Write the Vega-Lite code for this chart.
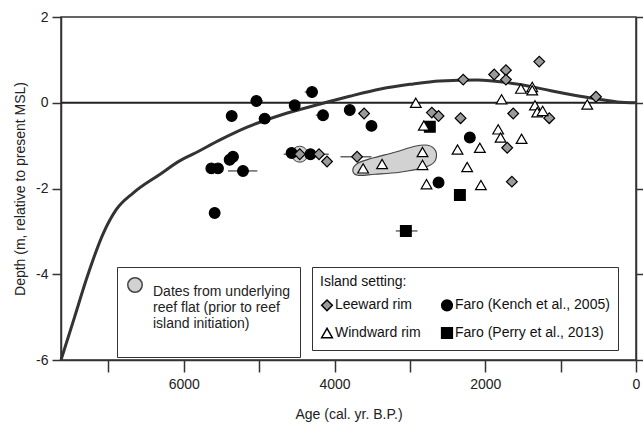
{
  "$schema": "https://vega.github.io/schema/vega-lite/v6.json",
  "autosize": {"type": "none"},
  "width": 575,
  "height": 343,
  "padding": {"left": 61, "top": 17, "right": 7, "bottom": 64},
  "config": {
    "view": {"stroke": "#333", "strokeWidth": 1.5},
    "font": "Liberation Sans",
    "axis": {"grid": false, "domainColor": "#333", "domainWidth": 1.5, "tickColor": "#333", "tickWidth": 1.5, "labelFontSize": 14, "labelColor": "#222", "titleFontSize": 14, "titleFontWeight": "normal", "titleColor": "#222", "labelFont": "Liberation Sans", "titleFont": "Liberation Sans"}
  },
  "datasets": {
    "curve": [
      {"age": 7630, "depth": -6.0}, {"age": 7450, "depth": -5.0}, {"age": 7290, "depth": -4.1},
      {"age": 7070, "depth": -3.05}, {"age": 6900, "depth": -2.5}, {"age": 6670, "depth": -2.1},
      {"age": 6310, "depth": -1.66}, {"age": 6050, "depth": -1.35}, {"age": 5880, "depth": -1.2},
      {"age": 5500, "depth": -0.85}, {"age": 5160, "depth": -0.57}, {"age": 4700, "depth": -0.28},
      {"age": 4190, "depth": -0.03}, {"age": 3800, "depth": 0.15}, {"age": 3390, "depth": 0.32},
      {"age": 3000, "depth": 0.43}, {"age": 2600, "depth": 0.51}, {"age": 2100, "depth": 0.53},
      {"age": 1710, "depth": 0.47}, {"age": 1400, "depth": 0.38}, {"age": 1130, "depth": 0.28},
      {"age": 800, "depth": 0.17}, {"age": 520, "depth": 0.09}, {"age": 250, "depth": 0.02},
      {"age": 0, "depth": 0.0}
    ],
    "zero": [{"age": 7630, "depth": 0}, {"age": 0, "depth": 0}],
    "blob": [
      {"i": 1, "age": 3758, "depth": -1.574}, {"i": 2, "age": 3692, "depth": -1.411},
      {"i": 3, "age": 3506, "depth": -1.295}, {"i": 4, "age": 3201, "depth": -1.155},
      {"i": 5, "age": 2935, "depth": -1.015}, {"i": 6, "age": 2762, "depth": -0.992},
      {"i": 7, "age": 2656, "depth": -1.132}, {"i": 8, "age": 2669, "depth": -1.365},
      {"i": 9, "age": 2802, "depth": -1.504}, {"i": 10, "age": 3134, "depth": -1.621},
      {"i": 11, "age": 3466, "depth": -1.668}, {"i": 12, "age": 3692, "depth": -1.691}
    ],
    "bars": [
      {"age": 5415, "age2": 5024, "depth": -1.59}, {"age": 4675, "age2": 4077, "depth": -1.2},
      {"age": 3922, "age2": 3510, "depth": -1.26}, {"age": 3187, "age2": 2899, "depth": -2.99},
      {"age": 5113, "age2": 4950, "depth": 0.04}, {"age": 5007, "age2": 4883, "depth": -0.37},
      {"age": 4396, "age2": 4286, "depth": 0.25}, {"age": 4250, "age2": 4086, "depth": -0.29},
      {"age": 5468, "age2": 5282, "depth": -1.3}, {"age": 2280, "age2": 2138, "depth": -0.81},
      {"age": 2696, "age2": 2563, "depth": -1.86}
    ],
    "reef": [
      {"age": 4462, "depth": -1.2, "kind": "Dates from underlying|reef flat (prior to reef|island initiation)"}
    ],
    "points": [
      {"setting": "Faro (Kench et al., 2005)", "age": 5365, "depth": -0.31},
      {"setting": "Faro (Kench et al., 2005)", "age": 5037, "depth": 0.04},
      {"setting": "Faro (Kench et al., 2005)", "age": 4927, "depth": -0.37},
      {"setting": "Faro (Kench et al., 2005)", "age": 4529, "depth": -0.06},
      {"setting": "Faro (Kench et al., 2005)", "age": 4299, "depth": 0.25},
      {"setting": "Faro (Kench et al., 2005)", "age": 4153, "depth": -0.29},
      {"setting": "Faro (Kench et al., 2005)", "age": 3798, "depth": -0.17},
      {"setting": "Faro (Kench et al., 2005)", "age": 3510, "depth": -0.54},
      {"setting": "Faro (Kench et al., 2005)", "age": 5348, "depth": -1.26},
      {"setting": "Faro (Kench et al., 2005)", "age": 5392, "depth": -1.33},
      {"setting": "Faro (Kench et al., 2005)", "age": 5635, "depth": -1.53},
      {"setting": "Faro (Kench et al., 2005)", "age": 5547, "depth": -1.53},
      {"setting": "Faro (Kench et al., 2005)", "age": 5215, "depth": -1.59},
      {"setting": "Faro (Kench et al., 2005)", "age": 5591, "depth": -2.57},
      {"setting": "Faro (Kench et al., 2005)", "age": 4570, "depth": -1.17},
      {"setting": "Faro (Kench et al., 2005)", "age": 4320, "depth": -1.2},
      {"setting": "Faro (Kench et al., 2005)", "age": 2205, "depth": -0.81},
      {"setting": "Faro (Kench et al., 2005)", "age": 2620, "depth": -1.86},
      {"setting": "Faro (Perry et al., 2013)", "age": 2736, "depth": -0.56},
      {"setting": "Faro (Perry et al., 2013)", "age": 2337, "depth": -2.15},
      {"setting": "Faro (Perry et al., 2013)", "age": 3054, "depth": -2.99},
      {"setting": "Leeward rim", "age": 3608, "depth": -0.25},
      {"setting": "Leeward rim", "age": 4206, "depth": -1.2},
      {"setting": "Leeward rim", "age": 4100, "depth": -1.37},
      {"setting": "Leeward rim", "age": 4462, "depth": -1.2},
      {"setting": "Leeward rim", "age": 3701, "depth": -1.26},
      {"setting": "Leeward rim", "age": 2293, "depth": 0.54},
      {"setting": "Leeward rim", "age": 1882, "depth": 0.66},
      {"setting": "Leeward rim", "age": 1726, "depth": 0.76},
      {"setting": "Leeward rim", "age": 1726, "depth": 0.54},
      {"setting": "Leeward rim", "age": 1284, "depth": 0.96},
      {"setting": "Leeward rim", "age": 531, "depth": 0.14},
      {"setting": "Leeward rim", "age": 2709, "depth": -0.23},
      {"setting": "Leeward rim", "age": 2620, "depth": -0.31},
      {"setting": "Leeward rim", "age": 2328, "depth": -0.36},
      {"setting": "Leeward rim", "age": 1629, "depth": -0.25},
      {"setting": "Leeward rim", "age": 1151, "depth": -0.36},
      {"setting": "Leeward rim", "age": 1709, "depth": -1.05},
      {"setting": "Leeward rim", "age": 1647, "depth": -1.84},
      {"setting": "Windward rim", "age": 2922, "depth": 0.0},
      {"setting": "Windward rim", "age": 1784, "depth": 0.08},
      {"setting": "Windward rim", "age": 1527, "depth": 0.33},
      {"setting": "Windward rim", "age": 1377, "depth": 0.37},
      {"setting": "Windward rim", "age": 1377, "depth": 0.29},
      {"setting": "Windward rim", "age": 1341, "depth": -0.06},
      {"setting": "Windward rim", "age": 1311, "depth": -0.22},
      {"setting": "Windward rim", "age": 1239, "depth": -0.19},
      {"setting": "Windward rim", "age": 647, "depth": -0.04},
      {"setting": "Windward rim", "age": 2815, "depth": -0.53},
      {"setting": "Windward rim", "age": 1829, "depth": -0.62},
      {"setting": "Windward rim", "age": 1797, "depth": -0.81},
      {"setting": "Windward rim", "age": 1518, "depth": -0.84},
      {"setting": "Windward rim", "age": 2368, "depth": -1.09},
      {"setting": "Windward rim", "age": 2072, "depth": -1.05},
      {"setting": "Windward rim", "age": 2833, "depth": -1.15},
      {"setting": "Windward rim", "age": 2833, "depth": -1.45},
      {"setting": "Windward rim", "age": 2240, "depth": -1.5},
      {"setting": "Windward rim", "age": 2780, "depth": -1.9},
      {"setting": "Windward rim", "age": 2058, "depth": -1.92},
      {"setting": "Windward rim", "age": 3621, "depth": -1.53},
      {"setting": "Windward rim", "age": 3369, "depth": -1.43}
    ]
  },
  "encoding": {
    "x": {"field": "age", "type": "quantitative", "scale": {"domain": [0, 7630], "reverse": true, "nice": false, "zero": false},
      "axis": {"orient": "bottom", "values": [7000, 6000, 5000, 4000, 3000, 2000, 1000, 0], "labelExpr": "datum.value % 2000 == 0 ? '' + datum.value : ''", "labelFlush": false, "labelOverlap": false, "tickSize": 12, "labelPadding": 5, "title": "Age (cal. yr. B.P.)", "titlePadding": 16}},
    "y": {"field": "depth", "type": "quantitative", "scale": {"domain": [-6, 2], "nice": false, "zero": false}, "axis": null}
  },
  "layer": [
    {
      "data": {"name": "blob"},
      "mark": {"type": "line", "interpolate": "cardinal-closed", "fill": "#d2d2d2", "stroke": "#444", "strokeWidth": 1.2},
      "encoding": {"order": {"field": "i"}}
    },
    {
      "data": {"name": "zero"},
      "mark": {"type": "line", "stroke": "#222", "strokeWidth": 2}
    },
    {
      "data": {"name": "curve"},
      "mark": {"type": "line", "interpolate": "monotone", "stroke": "#333", "strokeWidth": 3},
      "encoding": {
        "y": {"field": "depth", "type": "quantitative",
          "axis": {"orient": "right", "values": [-6, -4, -2, 0, 2], "labels": false, "tickSize": 7, "title": null}}
      }
    },
    {
      "data": {"name": "bars"},
      "mark": {"type": "rule", "stroke": "#666", "strokeWidth": 1.5},
      "encoding": {"x2": {"field": "age2"}}
    },
    {
      "data": {"name": "reef"},
      "mark": {"type": "point", "filled": true, "shape": "circle", "size": 256, "stroke": "#444", "strokeWidth": 1, "opacity": 1},
      "encoding": {
        "color": {"field": "kind", "type": "nominal", "scale": {"range": ["#d2d2d2"]},
          "legend": {"title": null, "orient": "none", "legendX": 56, "legendY": 250, "padding": 10, "strokeColor": "#333", "fillColor": "white",
            "labelExpr": "split(datum.label + '|', '|')", "labelFontSize": 14, "labelFont": "Liberation Sans", "labelColor": "#222", "labelBaseline": "top", "labelOffset": 10, "labelLimit": 300,
            "symbolSize": 210, "symbolType": "circle",
            "encode": {"symbols": {"update": {"stroke": {"value": "#444"}, "strokeWidth": {"value": 1}}},
                       "labels": {"update": {"lineHeight": {"value": 20}}}}}}
      }
    },
    {
      "data": {"name": "points"},
      "mark": {"type": "point", "filled": true, "stroke": "#000", "strokeWidth": 1.2, "opacity": 1, "size": 115},
      "encoding": {
        "y": {"field": "depth", "type": "quantitative",
          "axis": {"orient": "left", "values": [-6, -4, -2, 0, 2], "labelExpr": "datum.value < 0 ? '-' + (-datum.value) : '' + datum.value", "labelFlush": false, "labelOverlap": false, "tickSize": 9, "labelPadding": 4, "title": "Depth (m, relative to present MSL)", "titlePadding": 8}},
        "shape": {"field": "setting", "type": "nominal",
          "scale": {"domain": ["Leeward rim", "Faro (Kench et al., 2005)", "Windward rim", "Faro (Perry et al., 2013)"], "range": ["diamond", "circle", "triangle-up", "square"]},
          "legend": {"title": "Island setting:", "orient": "none", "legendX": 251, "legendY": 250, "columns": 2, "direction": "horizontal", "padding": 8, "strokeColor": "#333", "fillColor": "white",
            "titleFontSize": 14, "titleFontWeight": "normal", "titleColor": "#111", "titleFont": "Liberation Sans", "titlePadding": 9,
            "labelFontSize": 14, "labelFont": "Liberation Sans", "labelColor": "#111", "labelOffset": 1, "labelLimit": 300,
            "symbolSize": 115, "columnPadding": 17, "rowPadding": 10,
            "encode": {"symbols": {"update": {"stroke": {"value": "#000"}, "strokeWidth": {"value": 1.2}}}}}},
        "fill": {"field": "setting", "type": "nominal",
          "scale": {"domain": ["Leeward rim", "Faro (Kench et al., 2005)", "Windward rim", "Faro (Perry et al., 2013)"], "range": ["#9a9a9a", "#000000", "#ffffff", "#000000"]},
          "legend": {"title": "Island setting:", "orient": "none", "legendX": 251, "legendY": 250, "columns": 2, "direction": "horizontal", "padding": 8, "strokeColor": "#333", "fillColor": "white",
            "titleFontSize": 14, "titleFontWeight": "normal", "titleColor": "#111", "titleFont": "Liberation Sans", "titlePadding": 9,
            "labelFontSize": 14, "labelFont": "Liberation Sans", "labelColor": "#111", "labelOffset": 1, "labelLimit": 300,
            "symbolSize": 115, "columnPadding": 17, "rowPadding": 10,
            "encode": {"symbols": {"update": {"stroke": {"value": "#000"}, "strokeWidth": {"value": 1.2}}}}}}
      }
    }
  ],
  "resolve": {"axis": {"y": "independent"}, "scale": {"color": "independent"}}
}
